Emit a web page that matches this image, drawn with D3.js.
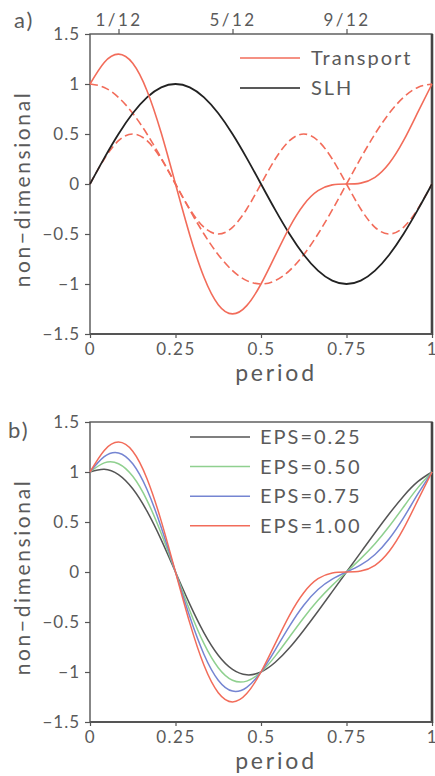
<!DOCTYPE html>
<html><head><meta charset="utf-8">
<script src="https://cdn.jsdelivr.net/npm/d3@7"></script>
<style>
html,body{margin:0;padding:0;background:#fff;}
svg text{font-family:"Lato","Open Sans",sans-serif;fill:#5a5a5a;}
</style></head><body>
<svg id="c" width="435" height="776"></svg>
<script>
// x positions (fraction of period)
const periodX = d3.range(25).map(k => k / 24);
// panel a series
const transport = [1,1.216,1.299,1.207,0.933,0.509,0,-0.509,-0.933,-1.207,-1.299,-1.216,-1,-0.716,-0.433,-0.207,-0.067,-0.009,0,0.009,0.067,0.207,0.433,0.716,1];
const annualDashed = [1,0.966,0.866,0.707,0.5,0.259,0,-0.259,-0.5,-0.707,-0.866,-0.966,-1,-0.966,-0.866,-0.707,-0.5,-0.259,0,0.259,0.5,0.707,0.866,0.966,1];
const semiDashed = [0,0.25,0.433,0.5,0.433,0.25,0,-0.25,-0.433,-0.5,-0.433,-0.25,0,0.25,0.433,0.5,0.433,0.25,0,-0.25,-0.433,-0.5,-0.433,-0.25,0];
const slh = [0,0.259,0.5,0.707,0.866,0.966,1,0.966,0.866,0.707,0.5,0.259,0,-0.259,-0.5,-0.707,-0.866,-0.966,-1,-0.966,-0.866,-0.707,-0.5,-0.259,0];
// panel b series
const eps025 = [1,1.028,0.974,0.832,0.608,0.321,0,-0.321,-0.608,-0.832,-0.974,-1.028,-1,-0.903,-0.758,-0.582,-0.392,-0.196,0,0.196,0.392,0.582,0.758,0.903,1];
const eps050 = [1,1.091,1.083,0.957,0.717,0.384,0,-0.384,-0.717,-0.957,-1.083,-1.091,-1,-0.841,-0.650,-0.457,-0.283,-0.134,0,0.134,0.283,0.457,0.650,0.841,1];
const eps075 = [1,1.153,1.191,1.082,0.825,0.446,0,-0.446,-0.825,-1.082,-1.191,-1.153,-1,-0.778,-0.541,-0.332,-0.175,-0.071,0,0.071,0.175,0.332,0.541,0.778,1];
const eps100 = [1,1.216,1.299,1.207,0.933,0.509,0,-0.509,-0.933,-1.207,-1.299,-1.216,-1,-0.716,-0.433,-0.207,-0.067,-0.009,0,0.009,0.067,0.207,0.433,0.716,1];
const epsLabels = ["EPS=0.25","EPS=0.50","EPS=0.75","EPS=1.00"];
// ticks
const xTicks = [0,0.25,0.5,0.75,1];
const xTickLabels = ["0","0.25","0.5","0.75","1"];
const yTicks = [-1.5,-1,-0.5,0,0.5,1,1.5];
const yTickLabels = ["\u22121.5","\u22121","\u22120.5","0","0.5","1","1.5"];
const topTicks = [1/12,5/12,9/12];
const topTickLabels = ["1/12","5/12","9/12"];

const SALMON = "#f26c5a", BLACK = "#222", GREY = "#555", GREEN = "#8fd08f", BLUE = "#7585d2";
const svg = d3.select("#c");
const L = 90, R = 432;

function panel(top, bottom, label, labelX, labelY, withTop) {
  const g = svg.append("g");
  const x = d3.scaleLinear().domain([0,1]).range([L,R]);
  const y = d3.scaleLinear().domain([-1.5,1.5]).range([bottom,top]);
  const ax = d3.axisBottom(x).tickValues(xTicks).tickFormat((d,i)=>xTickLabels[i]).tickSize(4).tickPadding(3);
  const gx = g.append("g").attr("transform",`translate(0,${bottom})`).call(ax);
  const ay = d3.axisLeft(y).tickValues(yTicks).tickFormat((d,i)=>yTickLabels[i]).tickSize(5).tickPadding(5);
  const gy = g.append("g").attr("transform",`translate(${L},0)`).call(ay);
  [gx,gy].forEach(a=>{
    a.select(".domain").remove();
    a.selectAll(".tick line").attr("stroke","#555").attr("stroke-width",1.2);
    a.selectAll(".tick text").attr("font-size",17).attr("fill","#5a5a5a");
  });
  gx.selectAll(".tick text").attr("dy","0.85em").style("letter-spacing","1.5px");
  gy.selectAll(".tick text").style("letter-spacing","1px");
  if (withTop) {
    const at = d3.axisTop(x).tickValues(topTicks).tickFormat((d,i)=>topTickLabels[i]).tickSize(5).tickPadding(3);
    const gt = g.append("g").attr("transform",`translate(0,${top})`).call(at);
    gt.select(".domain").remove();
    gt.selectAll(".tick line").attr("stroke","#555").attr("stroke-width",1.2);
    gt.selectAll(".tick text").attr("font-size",17).attr("fill","#5a5a5a").style("letter-spacing","2.5px");
  }
  g.append("rect").attr("x",L).attr("y",top).attr("width",R-L).attr("height",bottom-top)
    .attr("fill","none").attr("stroke","#555").attr("stroke-width",1.4);
  g.append("line").attr("x1",R).attr("x2",R).attr("y1",top).attr("y2",bottom+1)
    .attr("stroke","#444").attr("stroke-width",2.6);
  g.append("line").attr("x1",L).attr("x2",R).attr("y1",bottom).attr("y2",bottom)
    .attr("stroke","#555").attr("stroke-width",1.8);
  g.append("text").attr("x",labelX).attr("y",labelY).attr("font-size",22).attr("fill","#6a6a6a")
    .style("letter-spacing","2px").text(label);
  g.append("text").attr("transform",`translate(30,${(top+bottom)/2 + 5}) rotate(-90)`)
    .attr("text-anchor","middle").attr("font-size",21).style("letter-spacing","2.6px").text("non\u2212dimensional");
  g.append("text").attr("x",(L+R)/2+15).attr("y",bottom+47).attr("text-anchor","middle")
    .attr("font-size",23).style("letter-spacing","2.8px").text("period");
  return {g,x,y};
}

function drawLine(p, vals, color, dash, w) {
  const line = d3.line().x((d,i)=>p.x(periodX[i])).y(d=>p.y(d)).curve(d3.curveNatural);
  p.g.append("path").datum(vals).attr("d",line).attr("fill","none")
    .attr("stroke",color).attr("stroke-width",w||1.6)
    .attr("stroke-dasharray",dash||null);
}

// Panel a
const pa = panel(34, 334, "a)", 14, 28, true);
drawLine(pa, annualDashed, SALMON, "8,4");
drawLine(pa, semiDashed, SALMON, "8,4");
drawLine(pa, slh, BLACK, null, 1.8);
drawLine(pa, transport, SALMON, null, 1.6);
[["Transport",SALMON],["SLH",BLACK]].forEach((d,i)=>{
  const yy = 58 + i*30;
  pa.g.append("line").attr("x1",240).attr("x2",300).attr("y1",yy).attr("y2",yy)
    .attr("stroke",d[1]).attr("stroke-width",1.6);
  pa.g.append("text").attr("x",311).attr("y",yy+7).attr("font-size",20)
    .style("letter-spacing","2px").attr("fill","#333").text(d[0]);
});

// Panel b
const pb = panel(422, 722, "b)", 8, 438, false);
const epsSeries = [eps025, eps050, eps075, eps100];
const epsColors = [GREY, GREEN, BLUE, SALMON];
epsSeries.forEach((s,i)=>drawLine(pb, s, epsColors[i], null, 1.5));
epsLabels.forEach((t,i)=>{
  const yy = 437 + i*29.6;
  pb.g.append("line").attr("x1",190).attr("x2",250).attr("y1",yy).attr("y2",yy)
    .attr("stroke",epsColors[i]).attr("stroke-width",1.5);
  pb.g.append("text").attr("x",260).attr("y",yy+7).attr("font-size",20)
    .style("letter-spacing","2px").attr("fill","#333").text(t);
});
</script>
</body></html>
